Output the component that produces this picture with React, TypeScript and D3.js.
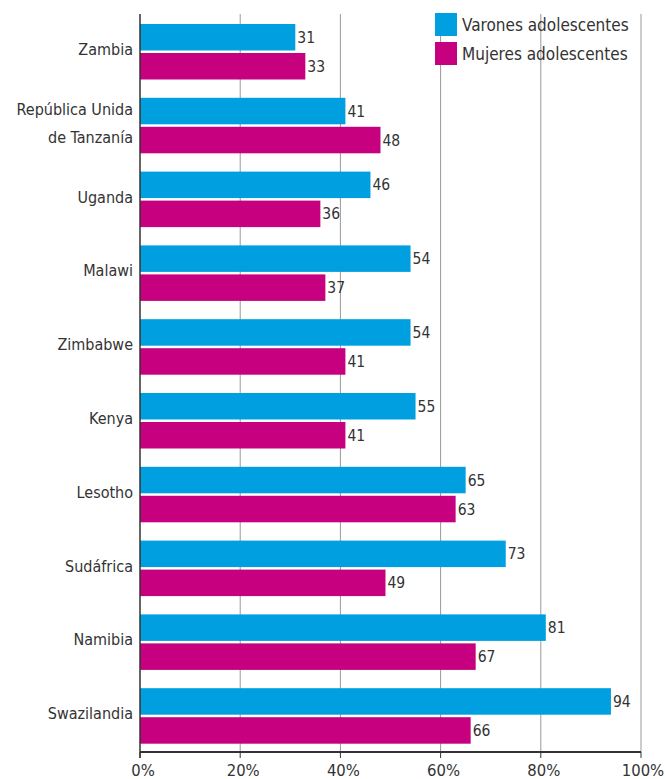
import React from "react";
import * as d3 from "d3";

const countries = ["Zambia", "República Unida de Tanzanía", "Uganda", "Malawi", "Zimbabwe", "Kenya", "Lesotho", "Sudáfrica", "Namibia", "Swazilandia"];
const countryLines: string[][] = [["Zambia"], ["República Unida", "de Tanzanía"], ["Uganda"], ["Malawi"], ["Zimbabwe"], ["Kenya"], ["Lesotho"], ["Sudáfrica"], ["Namibia"], ["Swazilandia"]];
const varones = [31, 41, 46, 54, 54, 55, 65, 73, 81, 94];
const mujeres = [33, 48, 36, 37, 41, 41, 63, 49, 67, 66];
const seriesNames = ["Varones adolescentes", "Mujeres adolescentes"];
const seriesColors = ["#009FDF", "#C6007E"];
const ticks = [0, 20, 40, 60, 80, 100];

const FONT = "'Liberation Sans Narrow', 'DejaVu Sans Condensed', 'Roboto', sans-serif";

export default function App() {
  const W = 665, H = 779;
  const x0 = 140, x1 = 641;
  const axisY = 752;
  const topY = 14;
  const x = d3.scaleLinear().domain([0, 100]).range([x0, x1]);
  const y = d3.scaleBand().domain(countries).range([14, 752]).paddingInner(0).paddingOuter(0);
  const barH = 26.5;
  const off1 = 10, off2 = 39;
  const textColor = "#333";
  return (
    <svg width={W} height={H} style={{ position: "absolute", left: 0, top: 0 }} fontFamily={FONT}>
      {ticks.slice(1).map(t => (
        <line key={t} x1={x(t)} x2={x(t)} y1={topY} y2={axisY} stroke="#999" strokeWidth={1} />
      ))}
      {countries.map((c, i) => {
        const gy = y(c)!;
        return (
          <g key={c}>
            <rect x={x0} y={gy + off1} width={x(varones[i]) - x0} height={barH} fill={seriesColors[0]} />
            <rect x={x0} y={gy + off2} width={x(mujeres[i]) - x0} height={barH} fill={seriesColors[1]} />
            <text x={x(varones[i]) + 2} y={gy + off1 + barH / 2 + 5.5} fontSize={15.5} fill={textColor}>{varones[i]}</text>
            <text x={x(mujeres[i]) + 2} y={gy + off2 + barH / 2 + 5.5} fontSize={15.5} fill={textColor}>{mujeres[i]}</text>
            {countryLines[i].map((ln, k) => (
              <text key={k} x={133} y={gy + 41 + (k - (countryLines[i].length - 1) / 2) * 28} textAnchor="end" fontSize={16} fill={textColor}>{ln}</text>
            ))}
          </g>
        );
      })}
      <line x1={x0} x2={x0} y1={topY} y2={axisY + 6} stroke="#333" strokeWidth={1.5} />
      <line x1={x0} x2={x1} y1={axisY} y2={axisY} stroke="#333" strokeWidth={2} />
      {ticks.map(t => (
        <g key={t}>
          <line x1={x(t)} x2={x(t)} y1={axisY} y2={axisY + 6} stroke="#333" strokeWidth={1} />
          <text x={t === 100 ? x(t) + 2 : x(t) + 3} y={776} textAnchor="middle" fontSize={16.5} fill={textColor}>{t}%</text>
        </g>
      ))}
      {seriesNames.map((s, i) => (
        <g key={s}>
          <rect x={435} y={13 + i * 29} width={22} height={23} fill={seriesColors[i]} />
          <text x={462} y={31 + i * 29} fontSize={17} fill={textColor}>{s}</text>
        </g>
      ))}
    </svg>
  );
}
